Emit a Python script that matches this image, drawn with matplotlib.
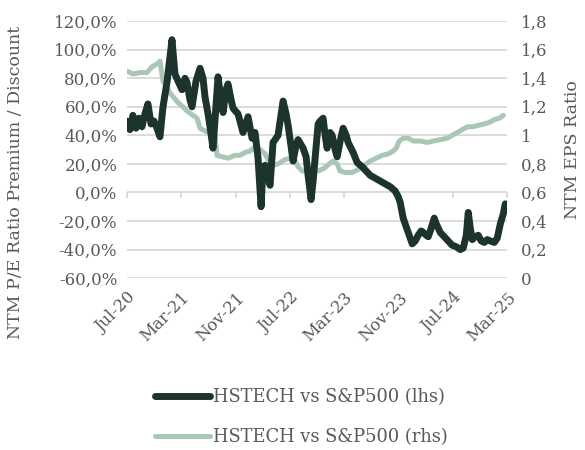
import matplotlib
matplotlib.use("Agg")
import matplotlib.pyplot as plt
import matplotlib.dates as mdates
import numpy as np
import pandas as pd

# months after 1 Jul 2020
months_lhs = [0, 0.44, 0.88, 1.33, 1.77, 2.21, 2.65, 3.09, 3.54, 3.98, 4.42, 4.86, 5.31, 5.89, 6.34,
              6.63, 7.07, 7.52, 8.11, 8.55, 8.84, 9.28, 9.58, 10.17, 10.76, 11.20, 11.49, 11.94, 12.23,
              12.67, 13.41, 13.85, 14.15, 14.59, 14.88, 15.33, 15.62, 16.36, 17.09, 17.83, 18.42, 18.86,
              19.30, 19.75, 20.04, 20.34, 20.78, 21.07, 21.51, 22.25, 22.55, 22.99, 23.43, 23.73, 24.17,
              24.46, 24.90, 25.20, 25.94, 26.38, 26.67, 27.11, 27.41, 27.70, 28.15, 28.44, 28.88, 29.18,
              29.47, 29.91, 30.21, 30.65, 30.95, 31.39, 31.83, 32.27, 32.57, 33.30, 33.89, 34.63, 35.22,
              35.81, 36.55, 37.28, 38.02, 38.76, 39.49, 39.94, 40.23, 40.67, 41.11, 41.41, 42.00, 42.44,
              42.88, 43.32, 43.62, 44.06, 44.36, 44.80, 45.24, 45.54, 46.13, 46.71, 47.30, 47.89, 48.48,
              49.07, 49.51, 49.96, 50.25, 50.55, 50.84, 51.28, 51.72, 52.17, 52.61, 53.05, 53.49, 54.08,
              54.52, 54.97, 55.41, 55.70]
pe_premium = [50, 44, 54, 45, 52, 46, 55, 62, 48, 50, 45, 39, 60, 77, 95,
              107, 83, 78, 72, 80, 77, 65, 60, 78, 87, 80, 67, 55, 46,
              31, 81, 65, 56, 72, 76, 65, 59, 55, 42, 53, 38, 42,
              24, -10, 18, 19, 10, 5, 35, 40, 50, 64, 55, 47, 32,
              22, 33, 37, 31, 25, 12, -5, 8, 24, 48, 50, 52, 40,
              31, 42, 40, 30, 25, 36, 45, 40, 35, 28, 21, 18, 15,
              12, 10, 8, 6, 4, 1, -3, -7, -18, -24, -28, -36, -34,
              -30, -27, -28, -30, -31, -25, -18, -22, -28, -31, -34, -37, -38,
              -40, -39, -30, -14, -25, -33, -31, -30, -34, -35, -33, -34, -35,
              -32, -22, -15, -8]

months_rhs = [0, 0.88, 1.92, 2.95, 3.68, 4.42, 4.86, 5.31, 5.89, 6.63, 7.52, 8.25, 8.84, 9.73, 10.32,
              10.76, 11.49, 12.23, 12.97, 13.26, 14.00, 14.88, 15.91, 16.65, 17.39, 18.13, 18.86, 19.60,
              20.34, 21.07, 21.51, 22.25, 23.28, 24.02, 24.76, 25.20, 25.79, 26.97, 28.15, 29.03, 29.77,
              30.36, 30.95, 31.39, 32.12, 33.16, 34.04, 34.92, 35.81, 36.69, 37.58, 38.46, 39.20, 39.64,
              40.08, 40.67, 41.41, 42.15, 43.18, 44.21, 45.09, 46.13, 47.16, 47.89, 48.63, 49.37, 50.10,
              50.84, 51.72, 52.61, 53.34, 54.08, 54.82, 55.41]
eps_ratio = [1.45, 1.43, 1.44, 1.44, 1.48, 1.50, 1.52, 1.38, 1.33, 1.28, 1.23, 1.20, 1.17, 1.14, 1.12,
             1.05, 1.03, 1.02, 1.00, 0.86, 0.85, 0.84, 0.86, 0.86, 0.88, 0.89, 0.92, 0.90,
             0.87, 0.80, 0.79, 0.80, 0.83, 0.84, 0.82, 0.78, 0.75, 0.75, 0.75, 0.77, 0.80,
             0.82, 0.80, 0.75, 0.74, 0.74, 0.76, 0.79, 0.82, 0.84, 0.86, 0.87, 0.89, 0.91,
             0.96, 0.98, 0.98, 0.96, 0.96, 0.95, 0.96, 0.97, 0.98, 1.00, 1.02, 1.04, 1.06,
             1.06, 1.07, 1.08, 1.09, 1.11, 1.12, 1.14]

tick_dates = ['2020-07-01', '2021-03-01', '2021-11-01', '2022-07-01',
              '2023-03-01', '2023-11-01', '2024-07-01', '2025-03-01']
series_names = ['HSTECH vs S&P500 (lhs)', 'HSTECH vs S&P500 (rhs)']

dark = '#1c332e'
light = '#aac7b5'
grey_txt = '#595959'
grid_c = '#d9d9d9'

plt.rcParams['font.family'] = ['DejaVu Serif']
plt.rcParams['font.size'] = 12


def to_dates(m):
    start = pd.Timestamp('2020-07-01')
    return mdates.date2num(start + pd.to_timedelta(np.array(m) * 30.4375, unit='D'))


x_lhs = to_dates(months_lhs)
x_rhs = to_dates(months_rhs)
ticks = mdates.date2num(pd.to_datetime(tick_dates))

fig = plt.figure(figsize=(5.85, 4.5), dpi=100)
ax = fig.add_axes([0.217, 0.382, 0.65, 0.571])
ax2 = ax.twinx()

# rhs axis goes underneath, carries the grid
ax.set_zorder(ax2.get_zorder() + 1)
ax.patch.set_visible(False)

l2, = ax2.plot(x_rhs, eps_ratio, color=light, lw=3.6, solid_capstyle='round', solid_joinstyle='round')
# x axis line at 0% with small tick marks below it
ax.vlines(ticks, -4, 0, color=grid_c, lw=1.3, zorder=1, clip_on=False)
l1, = ax.plot(x_lhs, pe_premium, color=dark, lw=5, solid_capstyle='round', solid_joinstyle='round',
              zorder=3)

ax.set_ylim(-60, 120)
ax.set_yticks(np.arange(-60, 121, 20))
ax.set_yticklabels([f"{v:.1f}%".replace('.', ',') for v in np.arange(-60, 121, 20)])
ax2.set_ylim(0, 1.8)
rt = np.round(np.arange(0, 1.81, 0.2), 1)
ax2.set_yticks(rt)
ax2.set_yticklabels([f"{v:g}".replace('.', ',') for v in rt])
ax2.grid(axis='y', color=grid_c, lw=1.3)
ax2.set_axisbelow(True)

ax.set_xlim(ticks[0], ticks[-1])
ax.set_xticks(ticks)
ax.xaxis.set_major_formatter(mdates.DateFormatter('%b-%y'))
for lab in ax.get_xticklabels():
    lab.set_rotation(45)
    lab.set_ha('right')
    lab.set_va('top')
    lab.set_rotation_mode('anchor')

for a in (ax, ax2):
    for s in a.spines.values():
        s.set_visible(False)
ax.tick_params(axis='both', length=0, colors=grey_txt, labelsize=12)
ax.tick_params(axis='x', pad=8)
ax.tick_params(axis='y', pad=7)
ax2.tick_params(axis='y', length=0, colors=grey_txt, labelsize=12, pad=10)

fig.text(0.026, 1 - 182 / 450, 'NTM P/E Ratio Premium / Discount', rotation=90,
         ha='center', va='center', color=grey_txt, fontsize=12.5)
fig.text(0.978, 1 - 150 / 450, 'NTM EPS Ratio', rotation=90,
         ha='center', va='center', color=grey_txt, fontsize=12.5)

fig.legend([l1, l2], series_names, loc='center', bbox_to_anchor=(0.515, 0.073),
           frameon=False, fontsize=12.9, handlelength=3.07, handletextpad=0.15,
           labelspacing=1.2, labelcolor=grey_txt)

fig.savefig('out.png', dpi=100, facecolor='white')
